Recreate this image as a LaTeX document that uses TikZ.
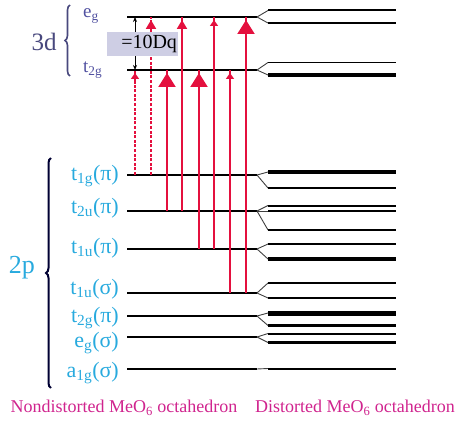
\documentclass[tikz,border=0pt]{standalone}
\usepackage{fontspec}
\setmainfont{Liberation Serif}
\usetikzlibrary{arrows.meta,calc,decorations.pathreplacing}
\definecolor{exred}{RGB}{228,16,62}
\definecolor{orbblue}{RGB}{40,170,222}
\definecolor{dblue}{RGB}{72,72,125}
\definecolor{lblue}{RGB}{80,80,160}
\definecolor{capmag}{RGB}{208,36,142}
\definecolor{boxfill}{RGB}{206,206,228}
\tikzset{
  level/.style={line width=2pt},
  split/.style={line width=0.9pt, black!75},
  exc/.style={draw=exred, line width=2pt},
  excdash/.style={exc, dash pattern=on 3pt off 1.6pt},
  bighead/.style={-{Triangle[width=17pt,length=14pt]}},
  midhead/.style={-{Triangle[width=10pt,length=9pt]}},
  smallhead/.style={-{Triangle[width=8pt,length=6pt]}},
  orb/.style={text=orbblue, font=\fontsize{22}{22}\selectfont, anchor=base east, inner sep=0pt},
  caplabel/.style={text=capmag, font=\fontsize{18}{18}\selectfont, inner sep=0pt},
}
\begin{document}
\begin{tikzpicture}[x=1pt,y=-1pt]
        \useasboundingbox (0,0) rectangle (455,425);
        % levels, nondistorted
        \foreach \n/\y in {eg/17,t2g/70,t1gp/175,t2up/211,t1up/249,t1us/293,t2gp/316,egs/337,a1gs/369}
        {
            \coordinate (\n) at (127,\y);
            \coordinate (\n-e) at (257,\y);
            \path[draw, level] (\n) -- (\n-e);
        }
        % levels, distorted
        \foreach \n/\y/\w in {eg/10.5/2,eg/23/2,t2g/62.5/1.8,t2g/75/4.5,t1gp/172/4,t1gp/188/2.5,
            t2up/205.5/2,t2up/211/2.5,t2up/230/2.5,t1up/244/2,t1up/259/3.5,t1us/283/2,t1us/298/2.5,
            t2gp/313/5,t2gp/325.5/2.5,egs/333.5/2,egs/342.5/3,a1gs/368.5/2}
        {
            \path[draw, split] (\n-e) -- (268,\y);
            \path[draw, line width=\w pt] (268,\y) -- (396,\y);
        }
        % transitions
        \foreach \x/\from/\to/\hd in {167/t2up/t2g/bighead,182/t2up/eg/midhead,199/t1up/t2g/bighead,
            214/t1up/eg/smallhead,230/t1us/t2g/smallhead,246/t1us/eg/bighead}
        {
            \path[exc] (\x,0 |- \from) -- (\x,0 |- \to);
            \path[exc, \hd] (\x,0 |- \from) -- ($(\x,0 |- \to)+(0,3)$);
        }
        \foreach \x/\to/\hd in {135/t2g/smallhead,151/eg/midhead}
        {
            \path[excdash] (\x,0 |- t1gp) -- (\x,0 |- \to);
            \path[exc, \hd] ($(\x,0 |- \to)+(0,14)$) -- ($(\x,0 |- \to)+(0,3)$);
        }
        % 10Dq
        \path[draw, line width=0.9pt, {Stealth[length=5pt,width=4pt]}-{Stealth[length=5pt,width=4pt]}] (135,0 |- eg) -- (135,0 |- t2g);
        \node[fill=boxfill, minimum width=71pt, minimum height=22pt, text width=69pt, align=right,
            inner xsep=1pt, font=\fontsize{20}{20}\selectfont] (dq) at (142.5,44) {=10Dq};
        % 3d
        \path[draw=dblue, line width=1.6pt, decorate, decoration={brace, amplitude=5pt}] (70,76) -- (70,5);
        \node[text=dblue, font=\fontsize{25}{25}\selectfont] (d3) at (44,42) {3d};
        \node[text=lblue, font=\fontsize{19}{19}\selectfont, anchor=west, inner sep=0pt] (egl) at (83,16) {e\textsubscript{g}};
        \node[text=lblue, font=\fontsize{19}{19}\selectfont, anchor=west, inner sep=0pt] (t2gl) at (83,70) {t\textsubscript{2g}};
        % 2p
        \path[draw=black!80!blue, line width=2pt, decorate, decoration={brace, amplitude=5pt}] (51,388) -- (51,158);
        \node[text=orbblue, font=\fontsize{26}{26}\selectfont] (p2) at (22,268) {2p};
        \node[orb] (l1) at (119,180.5) {t\textsubscript{1g}(π)};
        \node[orb] (l2) at (119,213.5) {t\textsubscript{2u}(π)};
        \node[orb] (l3) at (119,253) {t\textsubscript{1u}(π)};
        \node[orb] (l4) at (119,294.5) {t\textsubscript{1u}(σ)};
        \node[orb] (l5) at (119,322.5) {t\textsubscript{2g}(π)};
        \node[orb] (l6) at (119,347.5) {e\textsubscript{g}(σ)};
        \node[orb] (l7) at (119,377) {a\textsubscript{1g}(σ)};
        % captions
        \node[caplabel] (c1) at (124,408) {Nondistorted MeO\textsubscript{6} octahedron};
        \node[caplabel] (c2) at (355,408) {Distorted MeO\textsubscript{6} octahedron};
\end{tikzpicture}
\end{document}
